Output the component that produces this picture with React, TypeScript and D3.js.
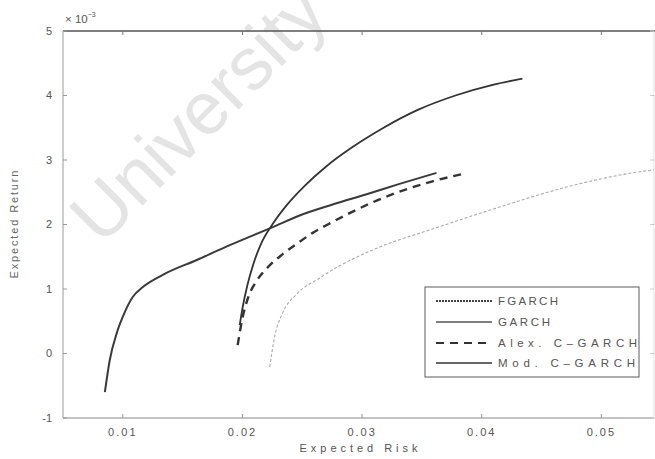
import { useEffect, useRef } from "react";
import * as d3 from "d3";

// risk values (x) and expected return values (y, in units of 1e-3)
const fgarchRisk = [0.0085, 0.00891, 0.0095, 0.01, 0.01084, 0.01167, 0.01334, 0.01618, 0.01894, 0.02253, 0.02478, 0.02754, 0.03038, 0.03313, 0.03622];
const fgarchRet = [-0.6, -0.1, 0.32, 0.57, 0.88, 1.03, 1.22, 1.45, 1.68, 1.96, 2.14, 2.31, 2.47, 2.63, 2.8];

const garchRisk = [0.02228, 0.02269, 0.02336, 0.02453, 0.02645, 0.02729, 0.03146, 0.03589, 0.04148, 0.04708, 0.05259, 0.0545];
const garchRet = [-0.21, 0.26, 0.63, 0.92, 1.17, 1.27, 1.65, 1.93, 2.27, 2.58, 2.8, 2.85];

const alexRisk = [0.0196, 0.02, 0.0205, 0.0212, 0.02203, 0.02336, 0.02461, 0.02587, 0.02754, 0.02921, 0.03255, 0.03589, 0.03831];
const alexRet = [0.13, 0.55, 0.88, 1.13, 1.32, 1.54, 1.71, 1.87, 2.04, 2.2, 2.47, 2.67, 2.78];

const modRisk = [0.01977, 0.02, 0.0204, 0.0209, 0.0216, 0.0225, 0.0237, 0.0252, 0.027, 0.0292, 0.0318, 0.0347, 0.0378, 0.041, 0.0434];
const modRet = [0.44, 0.7, 1.05, 1.38, 1.72, 2.0, 2.3, 2.6, 2.9, 3.2, 3.5, 3.78, 4.0, 4.17, 4.26];

const xTicks = [0.01, 0.02, 0.03, 0.04, 0.05];
const xTickLabels = ["0.01", "0.02", "0.03", "0.04", "0.05"];
const yTicks = [-1, 0, 1, 2, 3, 4, 5];

const seriesNames = ["FGARCH", "GARCH", "Alex. C–GARCH", "Mod. C–GARCH"];

const W = 655;
const H = 459;

export default function App() {
  const ref = useRef<SVGSVGElement>(null);

  useEffect(() => {
    if (!ref.current) return;
    const svg = d3.select(ref.current);
    svg.selectAll("*").remove();

    const left = 63, right = 654, top = 31, bottom = 418;
    const x = d3.scaleLinear().domain([0.005, 0.0544]).range([left, right]);
    const y = d3.scaleLinear().domain([-1, 5]).range([bottom, top]);

    svg.append("rect").attr("width", W).attr("height", H).attr("fill", "#fff");

    // watermark from the scan
    svg
      .append("text")
      .attr("transform", "translate(216,132) rotate(-45)")
      .attr("text-anchor", "middle")
      .attr("font-family", "Liberation Sans, Arial, sans-serif")
      .attr("font-size", 74)
      .attr("fill", "#e4e4e4")
      .text("University");

    const font = "Liberation Sans, Arial, sans-serif";
    const tickColor = "#555";

    // axes box
    svg.append("line").attr("x1", left).attr("x2", W).attr("y1", top).attr("y2", top)
      .attr("stroke", "#555").attr("stroke-width", 1.6);
    svg.append("line").attr("x1", left).attr("x2", right).attr("y1", bottom).attr("y2", bottom)
      .attr("stroke", "#888").attr("stroke-width", 1.2);
    svg.append("line").attr("x1", left).attr("x2", left).attr("y1", top).attr("y2", bottom)
      .attr("stroke", "#aaa").attr("stroke-width", 1.2);
    svg.append("line").attr("x1", right).attr("x2", right).attr("y1", top).attr("y2", bottom)
      .attr("stroke", "#e2e2e2").attr("stroke-width", 1);

    // y ticks
    const yg = svg.append("g");
    yg.selectAll("line.l").data(yTicks).join("line")
      .attr("x1", left).attr("x2", left + 4)
      .attr("y1", (d) => y(d)).attr("y2", (d) => y(d))
      .attr("stroke", "#999");
    yg.selectAll("line.r").data(yTicks).join("line")
      .attr("x1", right - 4).attr("x2", right)
      .attr("y1", (d) => y(d)).attr("y2", (d) => y(d))
      .attr("stroke", "#ccc");
    yg.selectAll("text").data(yTicks).join("text")
      .attr("x", left - 11).attr("y", (d) => y(d)).attr("dy", "0.35em")
      .attr("text-anchor", "end").attr("font-family", font).attr("font-size", 11)
      .attr("fill", tickColor).text((d) => `${d}`);

    // x ticks
    const xg = svg.append("g");
    xg.selectAll("line.b").data(xTicks).join("line")
      .attr("x1", (d) => x(d)).attr("x2", (d) => x(d))
      .attr("y1", bottom).attr("y2", bottom - 4).attr("stroke", "#999");
    xg.selectAll("line.t").data(xTicks).join("line")
      .attr("x1", (d) => x(d)).attr("x2", (d) => x(d))
      .attr("y1", top).attr("y2", top + 4).attr("stroke", "#777");
    xg.selectAll("text").data(xTicks).join("text")
      .attr("x", (d) => x(d)).attr("y", bottom + 18)
      .attr("text-anchor", "middle").attr("font-family", font).attr("font-size", 11)
      .attr("letter-spacing", 2).attr("fill", tickColor)
      .text((_, i) => xTickLabels[i]);

    // exponent
    const ex = svg.append("text").attr("x", left + 2).attr("y", 23)
      .attr("font-family", font).attr("font-size", 11.5).attr("fill", tickColor);
    ex.append("tspan").text("× 10");
    ex.append("tspan").attr("dy", -6).attr("font-size", 7).text("−3");

    // axis titles
    svg.append("text").attr("x", (left + right) / 2).attr("y", 452)
      .attr("text-anchor", "middle").attr("font-family", font).attr("font-size", 11)
      .attr("fill", "#555").attr("textLength", 118).attr("lengthAdjust", "spacing")
      .text("Expected Risk");
    svg.append("text").attr("transform", `translate(18,${(top + bottom) / 2}) rotate(-90)`)
      .attr("text-anchor", "middle").attr("font-family", font).attr("font-size", 11)
      .attr("fill", "#666").attr("textLength", 108).attr("lengthAdjust", "spacing")
      .text("Expected Return");

    const line = d3.line<[number, number]>()
      .x((d) => x(d[0]))
      .y((d) => y(d[1]))
      .curve(d3.curveMonotoneX);

    const zip = (a: number[], b: number[]) => a.map((v, i) => [v, b[i]] as [number, number]);

    const styles = [
      { stroke: "#3a3a3a", width: 2, dash: "" },
      { stroke: "#aaa", width: 1.1, dash: "3,2" },
      { stroke: "#333", width: 2.4, dash: "8,6" },
      { stroke: "#333", width: 1.8, dash: "" },
    ];
    const series = [
      zip(fgarchRisk, fgarchRet),
      zip(garchRisk, garchRet),
      zip(alexRisk, alexRet),
      zip(modRisk, modRet),
    ];

    svg.append("defs").append("clipPath").attr("id", "plotclip")
      .append("rect").attr("x", left).attr("y", top).attr("width", right - left).attr("height", bottom - top);

    const plot = svg.append("g").attr("clip-path", "url(#plotclip)");
    series.forEach((s, i) => {
      plot.append("path").datum(s).attr("d", line)
        .attr("fill", "none").attr("stroke", styles[i].stroke)
        .attr("stroke-width", styles[i].width)
        .attr("stroke-dasharray", styles[i].dash || null);
    });

    // legend
    const lg = svg.append("g");
    lg.append("rect").attr("x", 425).attr("y", 287).attr("width", 214).attr("height", 90)
      .attr("fill", "#fff").attr("stroke", "#777").attr("stroke-width", 1.2);
    const rowY = [301, 322, 343, 363];
    const legendStyles = [
      { stroke: "#444", width: 2, dash: "2,1" },
      { stroke: "#555", width: 1.4, dash: "" },
      { stroke: "#333", width: 2, dash: "8,6" },
      { stroke: "#333", width: 1.6, dash: "" },
    ];
    const widths = [60, 52, 139, 137];
    seriesNames.forEach((name, i) => {
      lg.append("line").attr("x1", 436).attr("x2", 492).attr("y1", rowY[i]).attr("y2", rowY[i])
        .attr("stroke", legendStyles[i].stroke).attr("stroke-width", legendStyles[i].width)
        .attr("stroke-dasharray", legendStyles[i].dash || null);
      lg.append("text").attr("x", 498).attr("y", rowY[i]).attr("dy", "0.35em")
        .attr("font-family", font).attr("font-size", 11.5).attr("fill", "#555")
        .attr("textLength", widths[i]).attr("lengthAdjust", "spacing").text(name);
    });
  }, []);

  return (
    <svg
      ref={ref}
      width={W}
      height={H}
      style={{ position: "absolute", left: 0, top: 0, display: "block" }}
    />
  );
}
